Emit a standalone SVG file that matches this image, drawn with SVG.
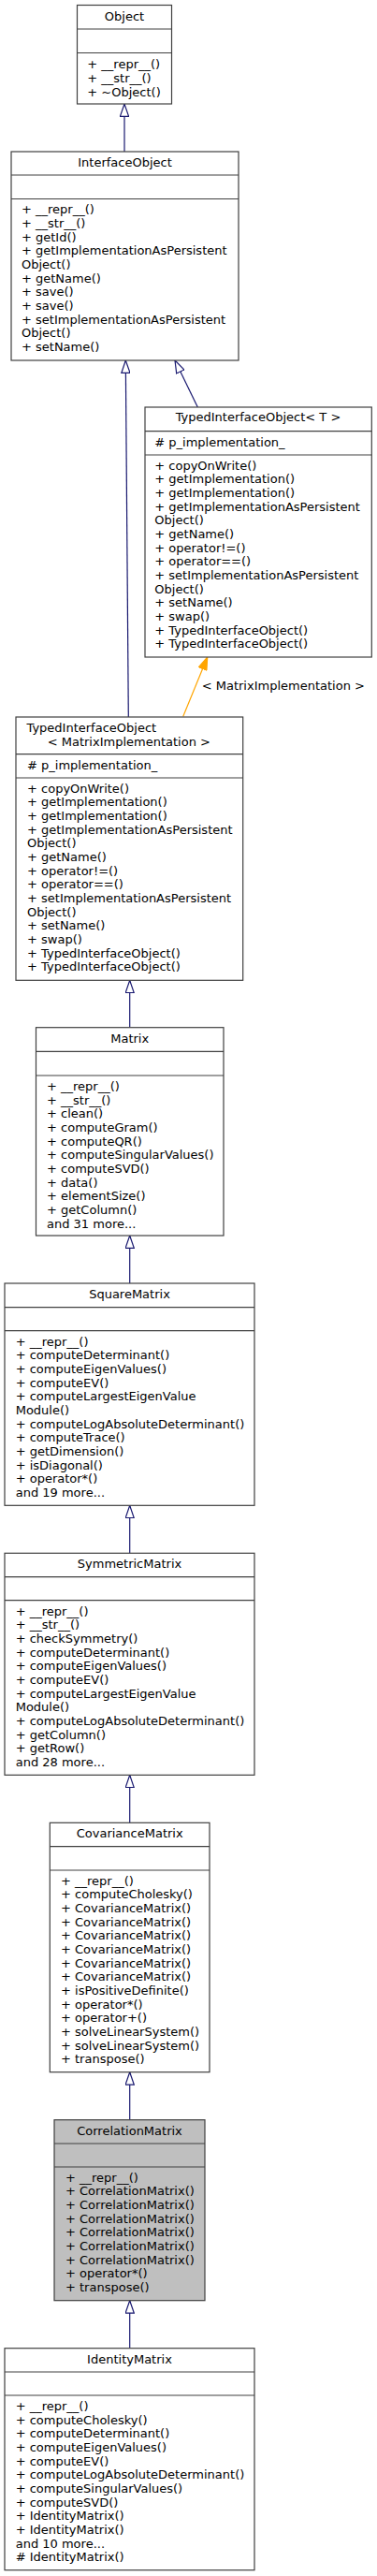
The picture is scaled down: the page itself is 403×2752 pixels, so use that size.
<svg xmlns="http://www.w3.org/2000/svg" width="403" height="2752" viewBox="0 0 403 2752">
<style>
text{font-family:"DejaVu Sans","Liberation Sans",sans-serif;font-size:13px;fill:#000}
.c{text-anchor:middle}
.box{fill:#fff;stroke:#404040;stroke-width:1.2}
.sel{fill:#bfbfbf}
.dv{fill:none;stroke:#404040;stroke-width:1.2}
.e{fill:none;stroke:#191970;stroke-width:1.2}
.t{fill:none;stroke:#ffa500;stroke-width:1.2}
</style>
<defs>
<marker id="inh" viewBox="0 0 15 10" refX="14" refY="5" markerWidth="15" markerHeight="10" markerUnits="userSpaceOnUse" orient="auto">
<path d="M0.6,0.4 L14,5 L0.6,9.6 Z" fill="#fff" stroke="#191970" stroke-width="1.2"/>
</marker>
<marker id="tpl" viewBox="0 0 15 10" refX="14" refY="5" markerWidth="15" markerHeight="10" markerUnits="userSpaceOnUse" orient="auto">
<path d="M0.6,0.4 L14,5 L0.6,9.6 Z" fill="#ffa500" stroke="#ffa500" stroke-width="1.2"/>
</marker>
</defs>
<rect x="0" y="0" width="403" height="2752" fill="#fff"/>
<g id="edges">
<path class="e" d="M133,162 L133,111" marker-end="url(#inh)"/>
<path class="e" d="M211.3,435 L187,385" marker-end="url(#inh)"/>
<path class="e" d="M137.3,766 L134.3,385" marker-end="url(#inh)"/>
<path class="t" d="M195.7,765.5 L221.7,702" marker-end="url(#tpl)"/>
<text x="215.7" y="736.5">&lt; MatrixImplementation &gt;</text>
<path class="e" d="M138.7,1097.7 L138.7,1047.3" marker-end="url(#inh)"/>
<path class="e" d="M138.7,1371 L138.7,1320" marker-end="url(#inh)"/>
<path class="e" d="M138.7,1659.3 L138.7,1608.3" marker-end="url(#inh)"/>
<path class="e" d="M138.7,1947.3 L138.7,1896.3" marker-end="url(#inh)"/>
<path class="e" d="M138.7,2264.7 L138.7,2213.7" marker-end="url(#inh)"/>
<path class="e" d="M138.7,2508.7 L138.7,2457.7" marker-end="url(#inh)"/>
</g>
<g id="Object">
<rect class="box" x="82.5" y="5.5" width="101" height="105.5"/>
<path class="dv" d="M82.5,31 H183.5 M82.5,56.5 H183.5"/>
<text class="c" x="133" y="21.7">Object</text>
<text x="93.3" y="73.3">+ __repr__()</text>
<text x="93.3" y="88">+ __str__()</text>
<text x="93.3" y="102.7">+ ~Object()</text>
</g>
<g id="InterfaceObject">
<rect class="box" x="12" y="162" width="243" height="223"/>
<path class="dv" d="M12,187 H255 M12,212.5 H255"/>
<text class="c" x="133.5" y="177.7">InterfaceObject</text>
<text x="23" y="228.4">+ __repr__()</text>
<text x="23" y="243.07">+ __str__()</text>
<text x="23" y="257.74">+ getId()</text>
<text x="23" y="272.41">+ getImplementationAsPersistent</text>
<text x="23" y="287.08">Object()</text>
<text x="23" y="301.75">+ getName()</text>
<text x="23" y="316.42">+ save()</text>
<text x="23" y="331.09">+ save()</text>
<text x="23" y="345.76">+ setImplementationAsPersistent</text>
<text x="23" y="360.43">Object()</text>
<text x="23" y="375.1">+ setName()</text>
</g>
<g id="TypedInterfaceObjectT">
<rect class="box" x="155" y="435" width="242.3" height="267"/>
<path class="dv" d="M155,460.7 H397.3 M155,486 H397.3"/>
<text class="c" x="276" y="450.4">TypedInterfaceObject&lt; T &gt;</text>
<text x="165.3" y="477"># p_implementation_</text>
<text x="165.3" y="501.7">+ copyOnWrite()</text>
<text x="165.3" y="516.37">+ getImplementation()</text>
<text x="165.3" y="531.04">+ getImplementation()</text>
<text x="165.3" y="545.71">+ getImplementationAsPersistent</text>
<text x="165.3" y="560.38">Object()</text>
<text x="165.3" y="575.05">+ getName()</text>
<text x="165.3" y="589.72">+ operator!=()</text>
<text x="165.3" y="604.39">+ operator==()</text>
<text x="165.3" y="619.06">+ setImplementationAsPersistent</text>
<text x="165.3" y="633.73">Object()</text>
<text x="165.3" y="648.4">+ setName()</text>
<text x="165.3" y="663.07">+ swap()</text>
<text x="165.3" y="677.74">+ TypedInterfaceObject()</text>
<text x="165.3" y="692.41">+ TypedInterfaceObject()</text>
</g>
<g id="TypedInterfaceObjectMI">
<rect class="box" x="17" y="766" width="242.7" height="281.3"/>
<path class="dv" d="M17,805.7 H259.7 M17,831 H259.7"/>
<text x="28.5" y="782">TypedInterfaceObject</text>
<text x="50.7" y="796.7">&lt; MatrixImplementation &gt;</text>
<text x="29" y="822"># p_implementation_</text>
<text x="29" y="846.7">+ copyOnWrite()</text>
<text x="29" y="861.37">+ getImplementation()</text>
<text x="29" y="876.04">+ getImplementation()</text>
<text x="29" y="890.71">+ getImplementationAsPersistent</text>
<text x="29" y="905.38">Object()</text>
<text x="29" y="920.05">+ getName()</text>
<text x="29" y="934.72">+ operator!=()</text>
<text x="29" y="949.39">+ operator==()</text>
<text x="29" y="964.06">+ setImplementationAsPersistent</text>
<text x="29" y="978.73">Object()</text>
<text x="29" y="993.4">+ setName()</text>
<text x="29" y="1008.07">+ swap()</text>
<text x="29" y="1022.74">+ TypedInterfaceObject()</text>
<text x="29" y="1037.41">+ TypedInterfaceObject()</text>
</g>
<g id="Matrix">
<rect class="box" x="38.5" y="1097.7" width="200.5" height="222.3"/>
<path class="dv" d="M38.5,1123.3 H239 M38.5,1149 H239"/>
<text class="c" x="138.7" y="1113.7">Matrix</text>
<text x="50" y="1164.9">+ __repr__()</text>
<text x="50" y="1179.57">+ __str__()</text>
<text x="50" y="1194.24">+ clean()</text>
<text x="50" y="1208.91">+ computeGram()</text>
<text x="50" y="1223.58">+ computeQR()</text>
<text x="50" y="1238.25">+ computeSingularValues()</text>
<text x="50" y="1252.92">+ computeSVD()</text>
<text x="50" y="1267.59">+ data()</text>
<text x="50" y="1282.26">+ elementSize()</text>
<text x="50" y="1296.93">+ getColumn()</text>
<text x="50" y="1311.6">and 31 more...</text>
</g>
<g id="SquareMatrix">
<rect class="box" x="5" y="1371" width="267" height="237.3"/>
<path class="dv" d="M5,1396.7 H272 M5,1421.7 H272"/>
<text class="c" x="138.5" y="1387">SquareMatrix</text>
<text x="16.7" y="1437.7">+ __repr__()</text>
<text x="16.7" y="1452.37">+ computeDeterminant()</text>
<text x="16.7" y="1467.04">+ computeEigenValues()</text>
<text x="16.7" y="1481.71">+ computeEV()</text>
<text x="16.7" y="1496.38">+ computeLargestEigenValue</text>
<text x="16.7" y="1511.05">Module()</text>
<text x="16.7" y="1525.72">+ computeLogAbsoluteDeterminant()</text>
<text x="16.7" y="1540.39">+ computeTrace()</text>
<text x="16.7" y="1555.06">+ getDimension()</text>
<text x="16.7" y="1569.73">+ isDiagonal()</text>
<text x="16.7" y="1584.4">+ operator*()</text>
<text x="16.7" y="1599.07">and 19 more...</text>
</g>
<g id="SymmetricMatrix">
<rect class="box" x="5" y="1659.3" width="267" height="237"/>
<path class="dv" d="M5,1684.7 H272 M5,1709.7 H272"/>
<text class="c" x="138.5" y="1674.7">SymmetricMatrix</text>
<text x="16.7" y="1725.7">+ __repr__()</text>
<text x="16.7" y="1740.37">+ __str__()</text>
<text x="16.7" y="1755.04">+ checkSymmetry()</text>
<text x="16.7" y="1769.71">+ computeDeterminant()</text>
<text x="16.7" y="1784.38">+ computeEigenValues()</text>
<text x="16.7" y="1799.05">+ computeEV()</text>
<text x="16.7" y="1813.72">+ computeLargestEigenValue</text>
<text x="16.7" y="1828.39">Module()</text>
<text x="16.7" y="1843.06">+ computeLogAbsoluteDeterminant()</text>
<text x="16.7" y="1857.73">+ getColumn()</text>
<text x="16.7" y="1872.4">+ getRow()</text>
<text x="16.7" y="1887.07">and 28 more...</text>
</g>
<g id="CovarianceMatrix">
<rect class="box" x="53.3" y="1947.3" width="170.7" height="266.4"/>
<path class="dv" d="M53.3,1972.7 H224 M53.3,1998 H224"/>
<text class="c" x="138.7" y="1963">CovarianceMatrix</text>
<text x="65" y="2013.7">+ __repr__()</text>
<text x="65" y="2028.37">+ computeCholesky()</text>
<text x="65" y="2043.04">+ CovarianceMatrix()</text>
<text x="65" y="2057.71">+ CovarianceMatrix()</text>
<text x="65" y="2072.38">+ CovarianceMatrix()</text>
<text x="65" y="2087.05">+ CovarianceMatrix()</text>
<text x="65" y="2101.72">+ CovarianceMatrix()</text>
<text x="65" y="2116.39">+ CovarianceMatrix()</text>
<text x="65" y="2131.06">+ isPositiveDefinite()</text>
<text x="65" y="2145.73">+ operator*()</text>
<text x="65" y="2160.4">+ operator+()</text>
<text x="65" y="2175.07">+ solveLinearSystem()</text>
<text x="65" y="2189.74">+ solveLinearSystem()</text>
<text x="65" y="2204.41">+ transpose()</text>
</g>
<g id="CorrelationMatrix">
<rect class="box sel" x="58" y="2264.7" width="161" height="193"/>
<path class="dv" d="M58,2290 H219 M58,2315 H219"/>
<text class="c" x="138.5" y="2280.7">CorrelationMatrix</text>
<text x="70" y="2330.7">+ __repr__()</text>
<text x="70" y="2345.37">+ CorrelationMatrix()</text>
<text x="70" y="2360.04">+ CorrelationMatrix()</text>
<text x="70" y="2374.71">+ CorrelationMatrix()</text>
<text x="70" y="2389.38">+ CorrelationMatrix()</text>
<text x="70" y="2404.05">+ CorrelationMatrix()</text>
<text x="70" y="2418.72">+ CorrelationMatrix()</text>
<text x="70" y="2433.39">+ operator*()</text>
<text x="70" y="2448.06">+ transpose()</text>
</g>
<g id="IdentityMatrix">
<rect class="box" x="5" y="2508.7" width="267" height="237"/>
<path class="dv" d="M5,2534 H272 M5,2559 H272"/>
<text class="c" x="138.5" y="2524.7">IdentityMatrix</text>
<text x="16.7" y="2575.1">+ __repr__()</text>
<text x="16.7" y="2589.77">+ computeCholesky()</text>
<text x="16.7" y="2604.44">+ computeDeterminant()</text>
<text x="16.7" y="2619.11">+ computeEigenValues()</text>
<text x="16.7" y="2633.78">+ computeEV()</text>
<text x="16.7" y="2648.45">+ computeLogAbsoluteDeterminant()</text>
<text x="16.7" y="2663.12">+ computeSingularValues()</text>
<text x="16.7" y="2677.79">+ computeSVD()</text>
<text x="16.7" y="2692.46">+ IdentityMatrix()</text>
<text x="16.7" y="2707.13">+ IdentityMatrix()</text>
<text x="16.7" y="2721.8">and 10 more...</text>
<text x="16.7" y="2736.47"># IdentityMatrix()</text>
</g>
</svg>
